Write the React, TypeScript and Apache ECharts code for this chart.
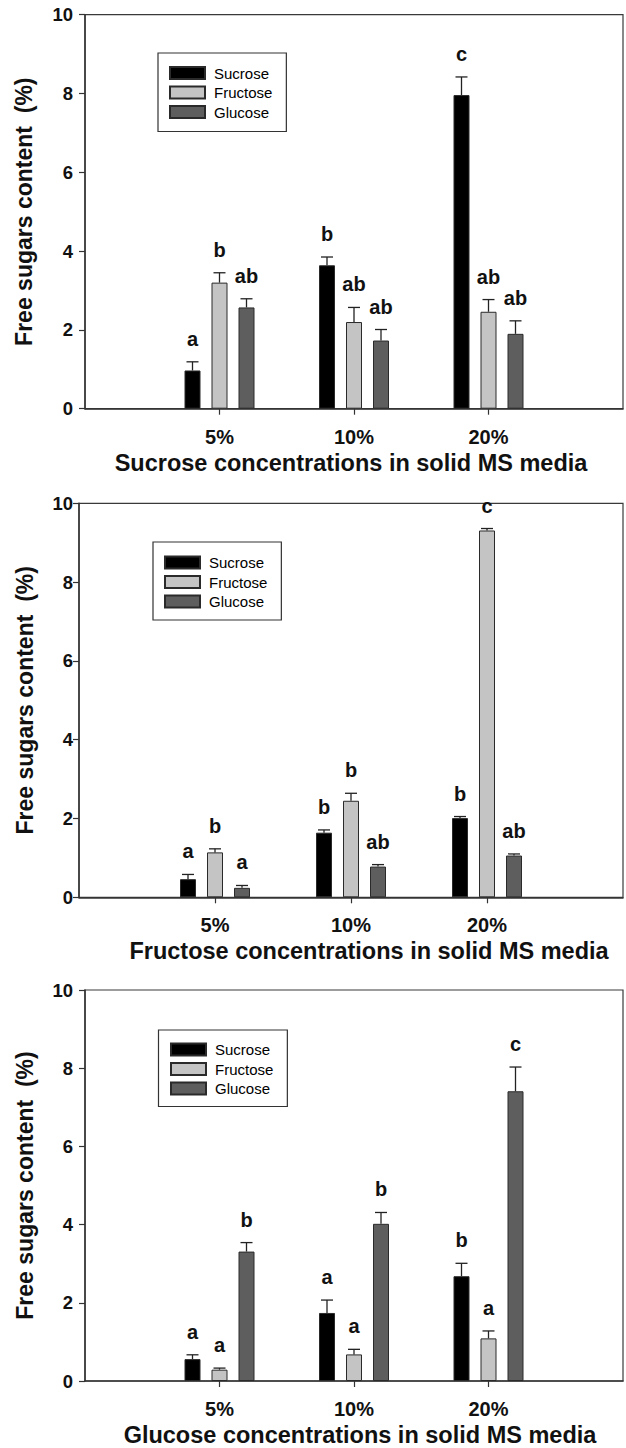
import React, { useEffect, useRef } from 'react';
import * as echarts from 'echarts';

// ---------- data ----------
const categories = ['5%', '10%', '20%'];
const sugars = ['Sucrose', 'Fructose', 'Glucose'];
const yMin = 0;
const yMax = 10;
const yStep = 2;
const yTitle = 'Free sugars content  (%)';
const xTitles = [
  'Sucrose concentrations in solid MS media',
  'Fructose concentrations in solid MS media',
  'Glucose concentrations in solid MS media',
];

// Panel 1: sucrose media
const p1Sucrose = [0.97, 3.64, 7.96];
const p1SucroseSE = [0.22, 0.21, 0.46];
const p1Fructose = [3.2, 2.2, 2.46];
const p1FructoseSE = [0.25, 0.37, 0.31];
const p1Glucose = [2.57, 1.73, 1.9];
const p1GlucoseSE = [0.22, 0.28, 0.33];
const p1Letters = [
  ['a', 'b', 'c'],
  ['b', 'ab', 'ab'],
  ['ab', 'ab', 'ab'],
];

// Panel 2: fructose media
const p2Sucrose = [0.46, 1.64, 2.01];
const p2SucroseSE = [0.12, 0.07, 0.04];
const p2Fructose = [1.14, 2.45, 9.31];
const p2FructoseSE = [0.09, 0.19, 0.05];
const p2Glucose = [0.24, 0.78, 1.06];
const p2GlucoseSE = [0.06, 0.05, 0.04];
const p2Letters = [
  ['a', 'b', 'b'],
  ['b', 'b', 'c'],
  ['a', 'ab', 'ab'],
];

// Panel 3: glucose media
const p3Sucrose = [0.56, 1.74, 2.68];
const p3SucroseSE = [0.11, 0.33, 0.33];
const p3Fructose = [0.29, 0.68, 1.09];
const p3FructoseSE = [0.04, 0.13, 0.19];
const p3Glucose = [3.31, 4.02, 7.41];
const p3GlucoseSE = [0.23, 0.29, 0.62];
const p3Letters = [
  ['a', 'a', 'b'],
  ['a', 'a', 'a'],
  ['b', 'b', 'c'],
];

const panelMeans = [
  [p1Sucrose, p1Fructose, p1Glucose],
  [p2Sucrose, p2Fructose, p2Glucose],
  [p3Sucrose, p3Fructose, p3Glucose],
];
const panelSE = [
  [p1SucroseSE, p1FructoseSE, p1GlucoseSE],
  [p2SucroseSE, p2FructoseSE, p2GlucoseSE],
  [p3SucroseSE, p3FructoseSE, p3GlucoseSE],
];
const panelLetters = [p1Letters, p2Letters, p3Letters];

// ---------- styles / layout ----------
const FONT = '"Liberation Sans", Arial, Helvetica, sans-serif';
const colors = ['#000000', '#c4c4c4', '#5e5e5e'];
const lineColor = '#333333';
const BAR_W = 16;
const BAR_STEP = 27;

const layout = [
  { left: 85, top: 14.7, height: 394, right: -1, yMargin: 12, yNameGap: 50, xNamePad: [0, 6, 0, 0], legLeft: 158, legTop: 53, legPad: [12.5, 14, 12, 11] },
  { left: 79, top: 503.3, height: 394, right: -2, yMargin: 6, yNameGap: 43, xNamePad: [0, 0, 0, 36], legLeft: 153, legTop: 542, legPad: [13, 14, 11, 11] },
  { left: 85, top: 990, height: 391, right: -3, yMargin: 12, yNameGap: 49, xNamePad: [0, 0, 0, 12], legLeft: 158.5, legTop: 1030, legPad: [12, 14, 10.5, 11.5] },
];

function buildOption() {
  const grid: any[] = [];
  const xAxis: any[] = [];
  const yAxis: any[] = [];
  const legend: any[] = [];
  const series: any[] = [];

  layout.forEach((L, i) => {
    grid.push({
      left: L.left,
      top: L.top,
      height: L.height,
      right: L.right,
      show: true,
      borderColor: '#3a3a3a',
      borderWidth: 1.2,
      backgroundColor: 'transparent',
    });
    xAxis.push({
      type: 'category',
      gridIndex: i,
      data: ['', ...categories, ''],
      boundaryGap: false,
      axisLine: { lineStyle: { color: lineColor, width: 1.5 } },
      axisTick: {
        show: true,
        length: 6,
        interval: (idx: number) => idx >= 1 && idx <= categories.length,
        lineStyle: { color: lineColor, width: 1.2 },
      },
      axisLabel: {
        interval: 0,
        margin: 18,
        fontSize: 20,
        fontWeight: 'bold',
        color: '#111',
        fontFamily: FONT,
      },
      splitLine: { show: false },
      name: xTitles[i],
      nameLocation: 'middle',
      nameGap: 42,
      nameTextStyle: {
        fontSize: 23.5,
        fontWeight: 'bold',
        color: '#111',
        fontFamily: FONT,
        padding: L.xNamePad,
      },
    });
    yAxis.push({
      type: 'value',
      gridIndex: i,
      min: yMin,
      max: yMax,
      interval: yStep,
      axisLine: { show: true, lineStyle: { color: lineColor, width: 1.5 } },
      axisTick: { show: true, length: 6, lineStyle: { color: lineColor, width: 1.2 } },
      splitLine: { show: false },
      axisLabel: {
        margin: L.yMargin,
        fontSize: 18.5,
        fontWeight: 'bold',
        color: '#111',
        fontFamily: FONT,
      },
      name: yTitle,
      nameLocation: 'middle',
      nameGap: L.yNameGap,
      nameTextStyle: {
        fontSize: 23,
        fontWeight: 'bold',
        color: '#111',
        fontFamily: FONT,
      },
    });
    legend.push({
      data: sugars,
      orient: 'vertical',
      left: L.legLeft,
      top: L.legTop,
      padding: L.legPad,
      itemWidth: 35,
      itemHeight: 12,
      itemGap: 4.5,
      icon: 'rect',
      borderColor: '#333',
      borderWidth: 1.2,
      backgroundColor: '#fff',
      selectedMode: false,
      textStyle: {
        fontSize: 15,
        fontFamily: FONT,
        color: '#000',
        padding: [0, 0, 0, 4],
      },
    });

    sugars.forEach((name, s) => {
      series.push({
        type: 'bar',
        name,
        xAxisIndex: i,
        yAxisIndex: i,
        data: [null, ...panelMeans[i][s], null],
        barWidth: BAR_W,
        barGap: ((BAR_STEP - BAR_W) / BAR_W) * 100 + '%',
        itemStyle: { color: colors[s], borderColor: '#2a2a2a', borderWidth: 1 },
        silent: true,
      });
    });

    const errData: number[][] = [];
    const errLetters: string[] = [];
    sugars.forEach((_, s) => {
      categories.forEach((_c, c) => {
        errData.push([c + 1, panelMeans[i][s][c], panelSE[i][s][c], s]);
        errLetters.push(panelLetters[i][s][c]);
      });
    });

    series.push({
      type: 'custom',
      name: 'err' + i,
      xAxisIndex: i,
      yAxisIndex: i,
      data: errData,
      z: 10,
      silent: true,
      renderItem: (params: any, api: any) => {
        const cat = api.value(0);
        const mean = api.value(1);
        const se = api.value(2);
        const s = api.value(3);
        const p0 = api.coord([cat, mean]);
        const p1 = api.coord([cat, mean + se]);
        const x = p0[0] + (s - 1) * BAR_STEP;
        return {
          type: 'group',
          children: [
            {
              type: 'line',
              shape: { x1: x, y1: p0[1], x2: x, y2: p1[1] },
              style: { stroke: '#222', lineWidth: 1.3 },
            },
            {
              type: 'line',
              shape: { x1: x - 6, y1: p1[1], x2: x + 6, y2: p1[1] },
              style: { stroke: '#222', lineWidth: 1.3 },
            },
            {
              type: 'text',
              x,
              y: p1[1] - 23,
              style: {
                text: errLetters[params.dataIndex],
                fontSize: 20,
                fontWeight: 'bold',
                fontFamily: FONT,
                fill: '#111',
                textAlign: 'center',
                textVerticalAlign: 'middle',
              },
            },
          ],
        };
      },
    });
  });

  return {
    animation: false,
    backgroundColor: '#ffffff',
    grid,
    xAxis,
    yAxis,
    legend,
    series,
  };
}

export default function App() {
  const ref = useRef<HTMLDivElement>(null);
  useEffect(() => {
    if (!ref.current) return;
    const chart = echarts.init(ref.current, undefined, { renderer: 'svg' });
    chart.setOption(buildOption() as any);
    return () => chart.dispose();
  }, []);
  return (
    <div
      ref={ref}
      style={{ position: 'absolute', left: 0, top: 0, width: 626, height: 1448, background: '#fff' }}
    />
  );
}
